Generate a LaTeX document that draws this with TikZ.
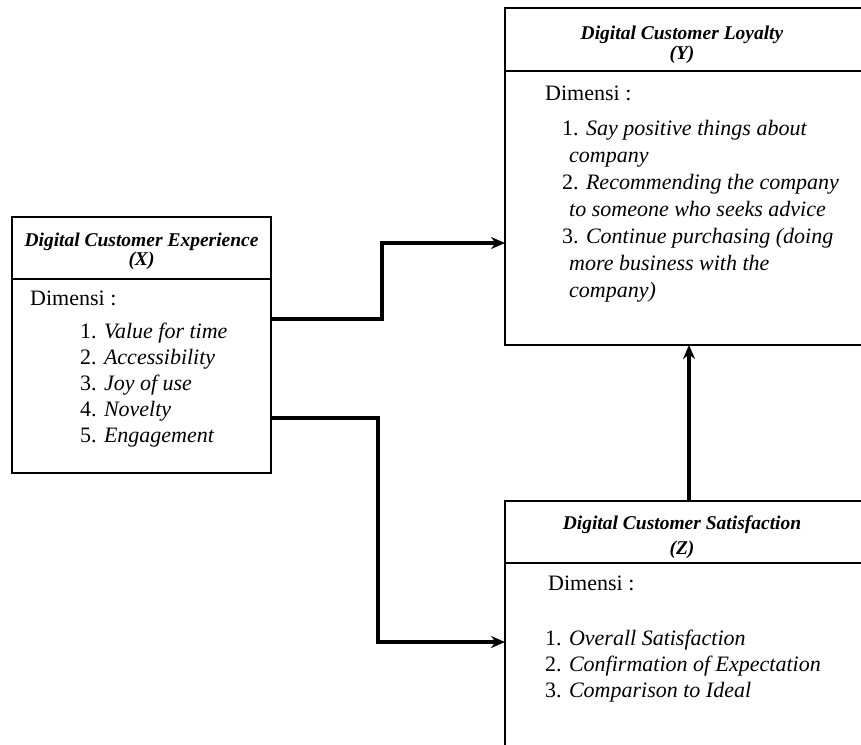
\documentclass[tikz,border=0pt]{standalone}
\usepackage{fontspec}
\setmainfont{Liberation Serif}
\usetikzlibrary{arrows.meta}
\begin{document}
\begin{tikzpicture}[x=1pt,y=-1pt,
  box/.style={draw,line width=1.9pt,inner sep=0pt,outer sep=0pt},
  divline/.style={line width=1.9pt},
  ttl/.style={font=\fontsize{19.5}{20}\selectfont\bfseries\itshape,inner sep=0pt,anchor=base},
  body/.style={font=\fontsize{22}{26}\selectfont,inner sep=0pt,anchor=base west},
  conn/.style={line width=3.4pt,-{Stealth[length=14pt,width=12pt]}}
]
\useasboundingbox[fill=white] (0,0) rectangle (861,744);

% boxes
\node[box,minimum width=259pt,minimum height=256pt] (X) at (141.5,345) {};
\node[box,minimum width=361pt,minimum height=337pt] (Y) at (685.5,176.5) {};
\node[box,minimum width=361pt,minimum height=299pt] (Z) at (685.5,650.5) {};

% header dividers
\draw[divline] (X.west |- 0,279) -- (X.east |- 0,279);
\draw[divline] (Y.west |- 0,71) -- (Y.east |- 0,71);
\draw[divline] (Z.west |- 0,563) -- (Z.east |- 0,563);

% X texts
\node[ttl] (xt1) at (141.5,246) {Digital Customer Experience};
\node[ttl] (xt2) at (141.5,265) {(X)};
\node[body] (xd) at (30,305) {Dimensi :};
\node[body] (x1) at (80,338) {1. \textit{Value for time}};
\node[body] (x2) at (80,364) {2. \textit{Accessibility}};
\node[body] (x3) at (80,390) {3. \textit{Joy of use}};
\node[body] (x4) at (80,416) {4. \textit{Novelty}};
\node[body] (x5) at (80,442) {5. \textit{Engagement}};

% Y texts
\node[ttl] (yt1) at (682,39) {Digital Customer Loyalty};
\node[ttl] (yt2) at (682,59) {(Y)};
\node[body] (yd) at (545,100) {Dimensi :};
\node[body] (y1) at (562,135) {1. \textit{Say positive things about}};
\node[body] (y1b) at (569,162) {\textit{company}};
\node[body] (y2) at (562,189) {2. \textit{Recommending the company}};
\node[body] (y2b) at (569,216) {\textit{to someone who seeks advice}};
\node[body] (y3) at (562,243) {3. \textit{Continue purchasing (doing}};
\node[body] (y3b) at (569,270) {\textit{more business with the}};
\node[body] (y3c) at (569,297) {\textit{company)}};

% Z texts
\node[ttl] (zt1) at (682,529) {Digital Customer Satisfaction};
\node[ttl] (zt2) at (682,554) {(Z)};
\node[body] (zd) at (548,590) {Dimensi :};
\node[body] (z1) at (545,645) {1. \textit{Overall Satisfaction}};
\node[body] (z2) at (545,671) {2. \textit{Confirmation of Expectation}};
\node[body] (z3) at (545,697) {3. \textit{Comparison to Ideal}};

% connectors
\coordinate (k1) at (382,243);
\coordinate (k2) at (378,642);
\draw[conn] (X.east |- 0,319) -| (k1) -- (Y.west |- k1);
\draw[conn] (X.east |- 0,418) -| (k2) -- (Z.west |- k2);
\draw[conn] (Z.north -| 689,0) -- (Y.south -| 689,0);
\end{tikzpicture}
\end{document}
